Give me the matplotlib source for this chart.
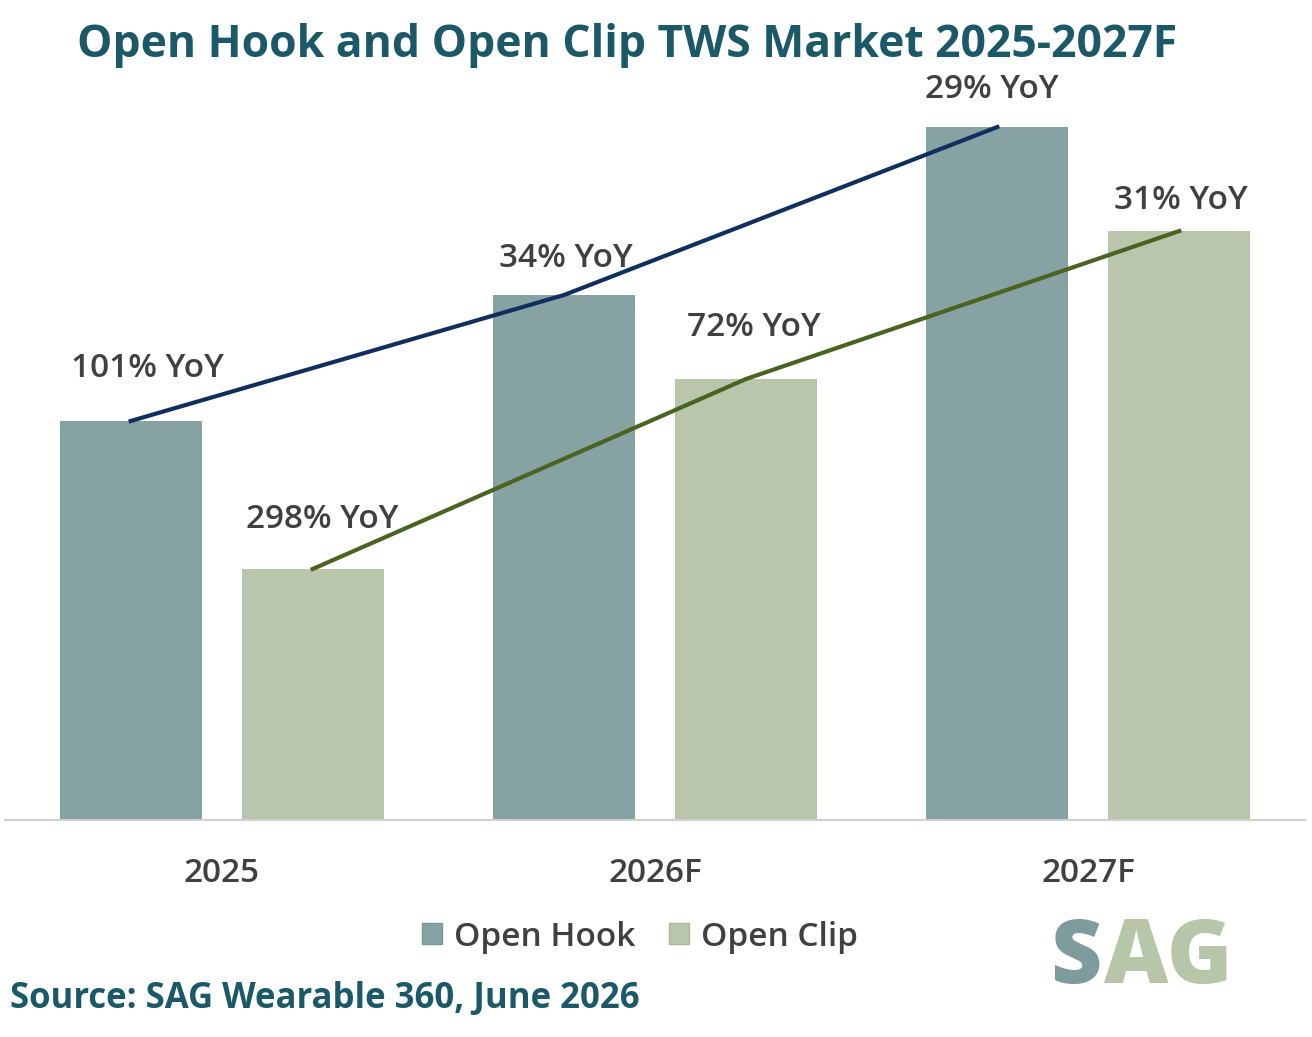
import matplotlib
matplotlib.use("Agg")
import matplotlib.pyplot as plt
import numpy as np
from matplotlib.patches import Patch

plt.rcParams["font.family"] = ["Open Sans", "DejaVu Sans"]

HOOK = "#87A2A3"
CLIP = "#BAC6AB"
HOOK_LINE = "#112F5E"
CLIP_LINE = "#4A6320"
TEXT = "#404040"
TEAL = "#1B5868"

years = ["2025", "2026F", "2027F"]
open_hook = [399, 525, 693]
open_clip = [251, 441, 589]
hook_yoy = ["101% YoY", "34% YoY", "29% YoY"]
clip_yoy = ["298% YoY", "72% YoY", "31% YoY"]

fig = plt.figure(figsize=(13.12, 10.37), dpi=100)
ax = fig.add_axes([5 / 1312, 217 / 1037, 1300 / 1312, 720 / 1037])

x = np.arange(len(years))
w = 0.328
off = 0.21
ax.bar(x - off, open_hook, w, color=HOOK, zorder=2)
ax.bar(x + off, open_clip, w, color=CLIP, zorder=2)
ax.plot(x - off, open_hook, color=HOOK_LINE, lw=3, zorder=3)
ax.plot(x + off, open_clip, color=CLIP_LINE, lw=3, zorder=3)

# label offsets in points (dx, dy) from bar tops
hook_off = [(12, 38), (1, 26), (-4, 27)]
clip_off = [(7, 36), (6, 37), (1, 22)]
for xi, v, t, (dx, dy) in zip(x - off, open_hook, hook_yoy, hook_off):
    ax.annotate(t, xy=(xi, v), xytext=(dx, dy), textcoords="offset points",
                ha="center", va="center", fontsize=24, fontweight="semibold", color=TEXT)
for xi, v, t, (dx, dy) in zip(x + off, open_clip, clip_yoy, clip_off):
    ax.annotate(t, xy=(xi, v), xytext=(dx, dy), textcoords="offset points",
                ha="center", va="center", fontsize=24, fontweight="semibold", color=TEXT)

ax.set_xlim(-0.5, 2.5)
ax.set_ylim(0, 720)
ax.set_xticks(x)
ax.set_xticklabels(years, fontsize=24, fontweight="semibold", color=TEXT)
ax.tick_params(axis="x", length=0, pad=27)
ax.set_yticks([])
for s in ["top", "right", "left"]:
    ax.spines[s].set_visible(False)
ax.spines["bottom"].set_color("#D0D0D0")
ax.spines["bottom"].set_linewidth(1.5)

fig.text(627 / 1312, 1 - 46 / 1037, "Open Hook and Open Clip TWS Market 2025-2027F",
         ha="center", va="center", fontsize=32, fontweight="bold", color=TEAL)

handles = [Patch(facecolor=HOOK, edgecolor="#7A9596"), Patch(facecolor=CLIP, edgecolor="#A9B79A")]
fig.legend(handles, ["Open Hook", "Open Clip"], loc="center", bbox_to_anchor=(640 / 1312, 1 - 937 / 1037),
           ncol=2, frameon=False, handlelength=0.6, handleheight=0.6, handletextpad=0.35,
           columnspacing=1.0, prop={"size": 24, "weight": "semibold"}, labelcolor=TEXT)

fig.text(10 / 1312, 1 - 999 / 1037, "Source: SAG Wearable 360, June 2026",
         ha="left", va="center", fontsize=25, fontweight="bold", color=TEAL)

fig.text(1050 / 1312, 1 - 960 / 1037, "S", ha="left", va="center",
         fontsize=64, fontweight="heavy", color="#7E9C9E")
fig.text(1104 / 1312, 1 - 960 / 1037, "AG", ha="left", va="center",
         fontsize=64, fontweight="heavy", color="#B7C5A8")

fig.savefig("out.png", dpi=100)
